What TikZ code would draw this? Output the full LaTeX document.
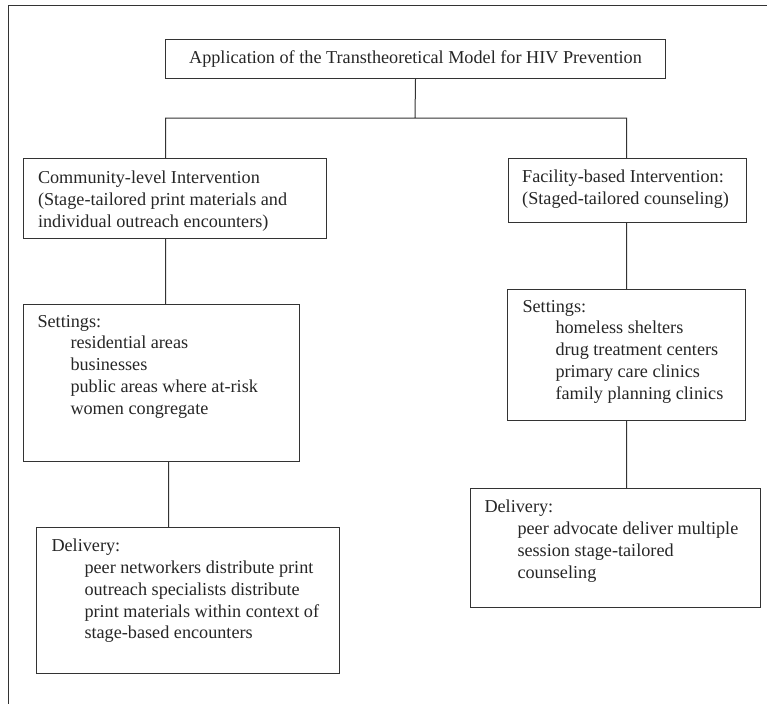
\documentclass[tikz,border=0pt]{standalone}
\usepackage{fontspec}
\setmainfont{Liberation Serif}
\usepackage{tikz}
\usetikzlibrary{positioning}

\newcommand{\indentitem}{\hspace*{33pt}}

\begin{document}
\begin{tikzpicture}[
        x=1pt, y=-1pt,
        line width=1pt,
        every node/.style={font=\fontsize{18.2}{21.8}\selectfont, text=black!85},
        box/.style={draw=black!80, rectangle, inner sep=0pt, anchor=north west},
        txt/.style={inner sep=0pt, align=left},
        link/.style={draw=black!80}
    ]
        \useasboundingbox (0,0) rectangle (767,704);
        \draw[black!80] (767,5) -- (8,5) -- (8,704);

        % boxes
        \node[box, minimum width=500pt, minimum height=39pt] (title) at (165,39) {\raisebox{-1.5pt}{Application of the Transtheoretical Model for HIV Prevention}};
        \node[box, minimum width=303pt, minimum height=80pt] (comm) at (23,158) {};
        \node[box, minimum width=238pt, minimum height=64pt] (fac) at (508,158) {};
        \node[box, minimum width=276pt, minimum height=157pt] (setL) at (23,304) {};
        \node[box, minimum width=303pt, minimum height=146pt] (delL) at (36,527) {};
        \node[box, minimum width=238pt, minimum height=131pt] (setR) at (507,289) {};
        \node[box, minimum width=290pt, minimum height=119pt] (delR) at (470,488) {};

        % texts
        \node[txt, below right=12.3pt and 14.5pt of comm.north west] (commtxt)
            {Community-level Intervention\\(Stage-tailored print materials and\\individual outreach encounters)};
        \node[txt, below right=11.3pt and 13.7pt of fac.north west] (factxt)
            {Facility-based Intervention:\\(Staged-tailored counseling)};
        \node[txt, below right=10.6pt and 14pt of setL.north west] (setLtxt)
            {Settings:\\\indentitem residential areas\\\indentitem businesses\\\indentitem public areas where at-risk\\\indentitem women congregate};
        \node[txt, below right=11.6pt and 15pt of delL.north west] (delLtxt)
            {Delivery:\\\indentitem peer networkers distribute print\\\indentitem outreach specialists distribute\\\indentitem print materials within context of\\\indentitem stage-based encounters};
        \node[txt, below right=10.6pt and 15pt of setR.north west] (setRtxt)
            {Settings:\\\indentitem homeless shelters\\\indentitem drug treatment centers\\\indentitem primary care clinics\\\indentitem family planning clinics};
        \node[txt, below right=11.6pt and 14pt of delR.north west] (delRtxt)
            {Delivery:\\\indentitem peer advocate deliver multiple\\\indentitem session stage-tailored\\\indentitem counseling};

        % connectors
        \coordinate (split) at (415,118);
        \path[link]
            (title.south) -- (split)
            (split) -| ([xshift=-9.5pt]comm.north)
            (split) -| ([xshift=-1pt]fac.north)
            ([xshift=-9.5pt]comm.south) -- ([xshift=-9.5pt]comm.south |- setL.north)
            ([xshift=7pt]setL.south) -- ([xshift=7pt]setL.south |- delL.north)
            (setR.north |- fac.south) -- (setR.north)
            (setR.south) -- (setR.south |- delR.north);
    \end{tikzpicture}
\end{document}
